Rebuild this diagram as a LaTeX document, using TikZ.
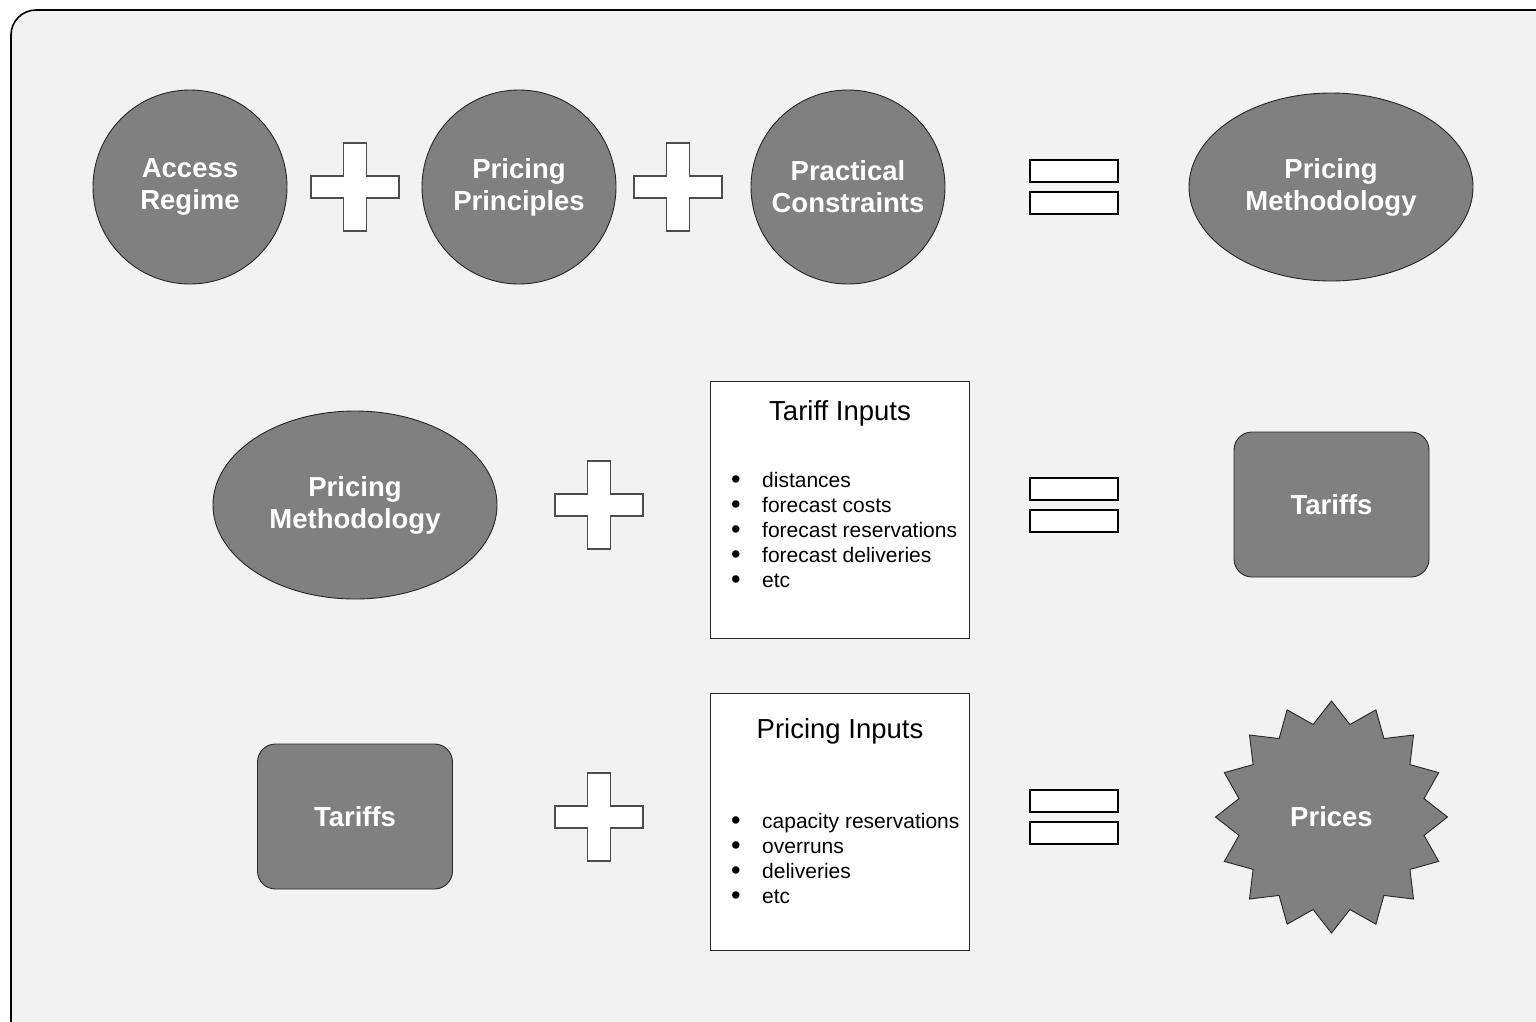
\documentclass[tikz,border=0pt]{standalone}
\usepackage{fontspec}
\setmainfont{Liberation Sans}
\usetikzlibrary{shapes.geometric}
\definecolor{panel}{HTML}{F2F2F2}
\definecolor{shade}{HTML}{808080}
\newcommand{\itemdot}{\makebox[31pt][l]{\raisebox{-1.5pt}{\scalebox{1.3}{\textbullet}}}}

\begin{document}
\begin{tikzpicture}[
        x=1pt, y=-1pt,
        bubble/.style={circle, draw=black!85, fill=shade, line width=0.9pt, minimum size=194pt, inner sep=0pt, align=center, text=white, font=\bfseries\fontsize{27.5}{32}\selectfont},
        oval/.style={bubble, ellipse, minimum width=284pt, minimum height=188pt},
        tile/.style={bubble, rectangle, rounded corners=18pt, minimum width=195pt, minimum height=145pt},
        burst/.style={bubble, star, star points=16, star point ratio=1.23, minimum size=232pt},
        inputs/.style={rectangle, draw=black!85, fill=white, line width=0.9pt, minimum width=259pt, minimum height=257pt},
        heading/.style={anchor=base, inner sep=0pt, font=\fontsize{27.5}{32}\selectfont},
        items/.style={anchor=north west, inner sep=0pt, align=left, font=\fontsize{21}{25}\selectfont},
        opsign/.style={draw=black!70, fill=white, line width=1.2pt},
        plussign/.pic={\draw[opsign] (-11.5,-44) -- (11.5,-44) -- (11.5,-11) -- (44,-11) -- (44,11) -- (11.5,11) -- (11.5,44) -- (-11.5,44) -- (-11.5,11) -- (-44,11) -- (-44,-11) -- (-11.5,-11) -- cycle;},
        equalsign/.pic={\draw[opsign, draw=black] (-44,-27) rectangle (44,-5);
                        \draw[opsign, draw=black] (-44,5) rectangle (44,27);}
    ]
        \useasboundingbox (0,0) rectangle (1536,1021);
        \clip (0,0) rectangle (1536,1021);
        \draw[line width=1.6pt, fill=panel, rounded corners=25pt] (11,10) rectangle (1575,1060);

        % access regime + principles + constraints = methodology
        \node[bubble] (access) at (190,187) {Access\\Regime};
        \pic at (355,187) {plussign};
        \node[bubble] (principles) at (519,187) {Pricing\\Principles};
        \pic at (678,187) {plussign};
        \node[bubble] (constraints) at (848,187) {Practical\\Constraints};
        \pic at (1074,187) {equalsign};
        \node[oval] (method) at (1331,187) {Pricing\\Methodology};

        % methodology + tariff inputs = tariffs
        \node[oval] (method2) at (355,505) {Pricing\\Methodology};
        \pic at (599,505) {plussign};
        \node[inputs] (tinbox) at (839.5,509.5) {};
        \node[heading] (tintitle) at (840,420) {Tariff Inputs};
        \node[items] (tinlist) at (731,472) {\itemdot distances\\
            \itemdot forecast costs\\
            \itemdot forecast reservations\\
            \itemdot forecast deliveries\\
            \itemdot etc};
        \pic at (1074,505) {equalsign};
        \node[tile] (tariffs) at (1331.5,504.5) {Tariffs};

        % tariffs + pricing inputs = prices
        \node[tile] (tariffs2) at (355,816.5) {Tariffs};
        \pic at (599,817) {plussign};
        \node[inputs] (pinbox) at (839.5,821.5) {};
        \node[heading] (pintitle) at (840,738) {Pricing Inputs};
        \node[items] (pinlist) at (731,813) {\itemdot capacity reservations\\
            \itemdot overruns\\
            \itemdot deliveries\\
            \itemdot etc};
        \pic at (1074,817) {equalsign};
        \node[burst] (prices) at (1331.5,817) {Prices};
    \end{tikzpicture}
\end{document}
